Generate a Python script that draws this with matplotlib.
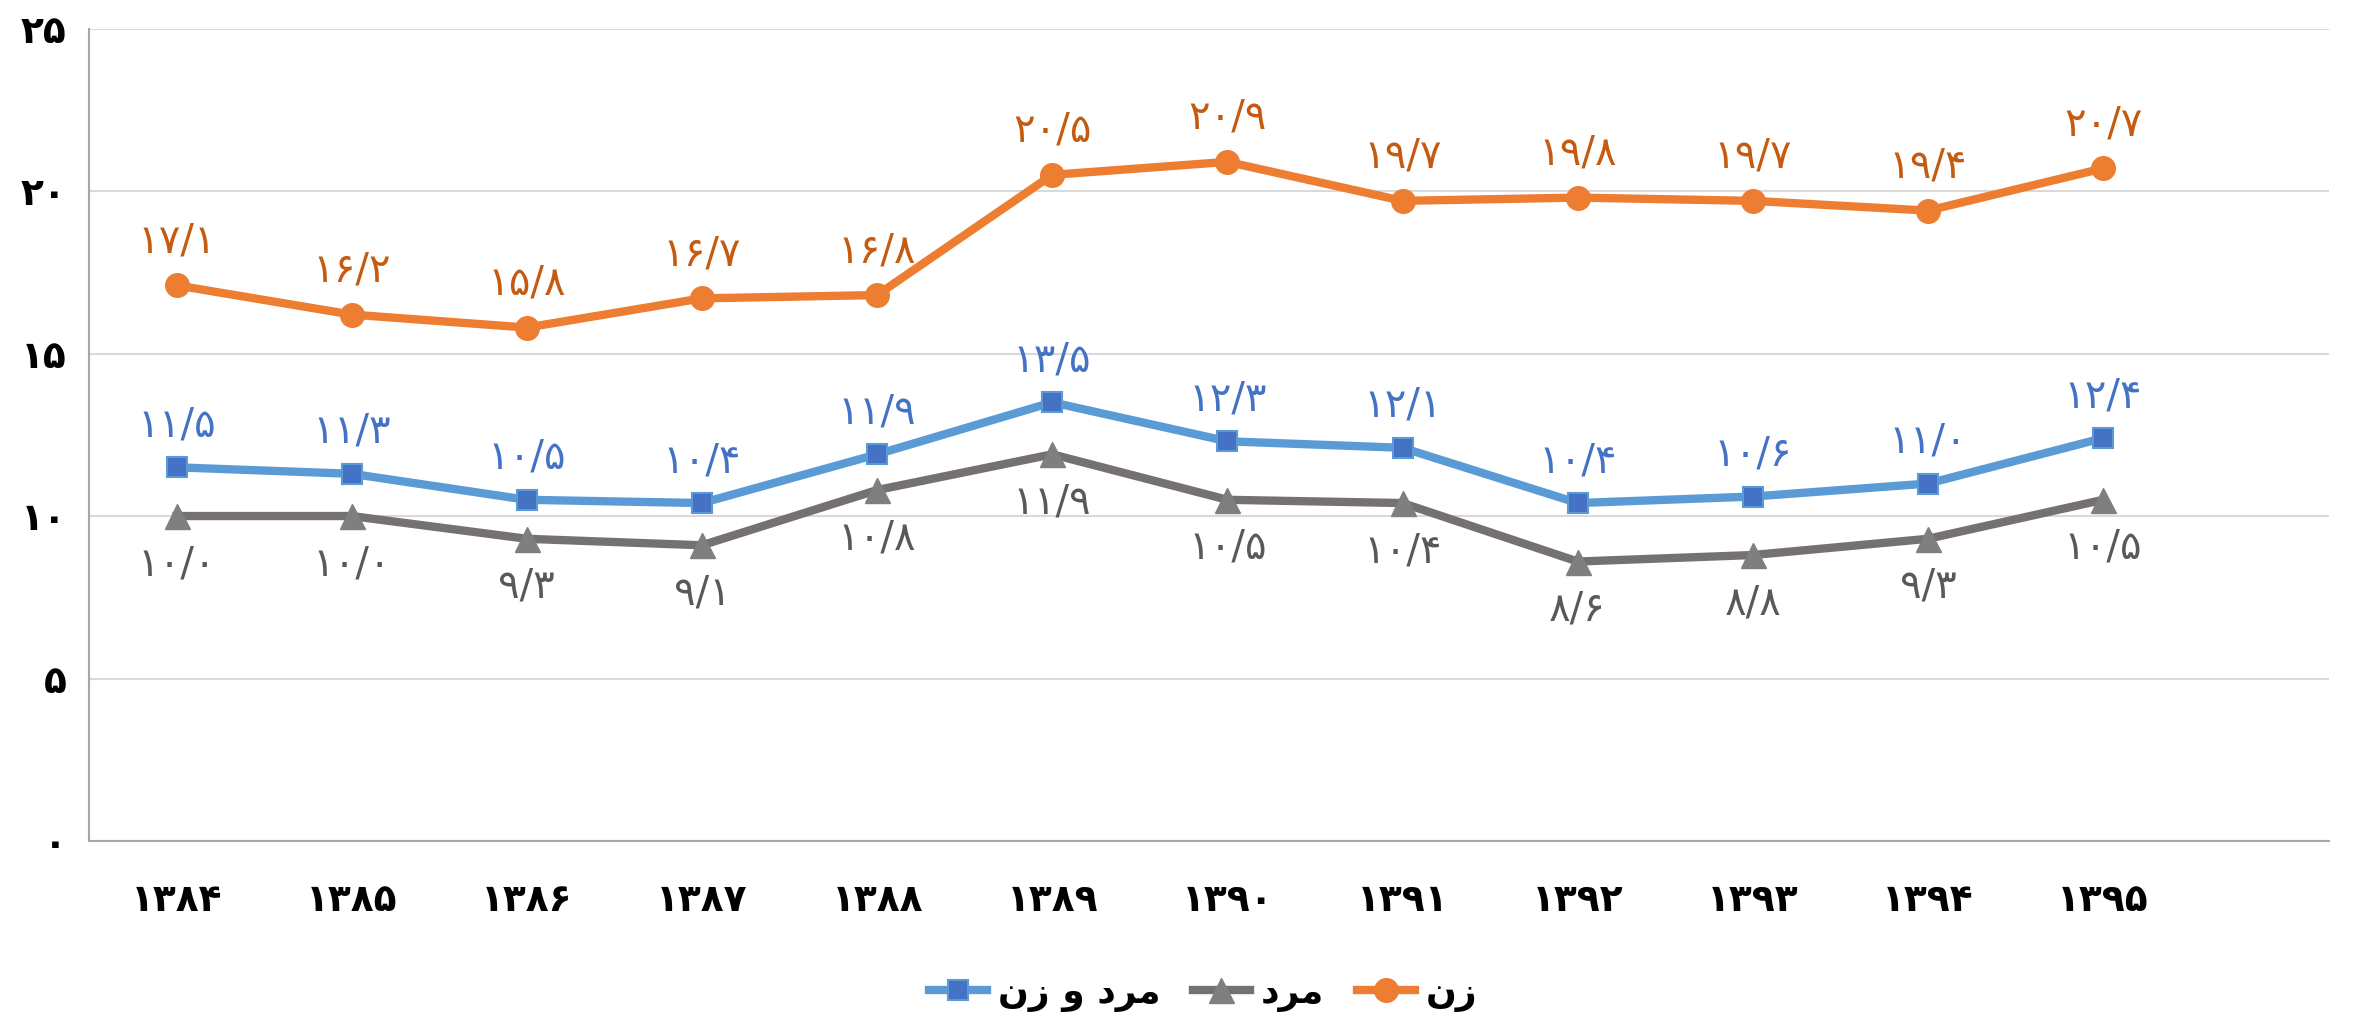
import matplotlib
matplotlib.use("Agg")
import matplotlib.pyplot as plt

plt.rcParams['font.family'] = ['DejaVu Sans']

years = ["۱۳۸۴", "۱۳۸۵", "۱۳۸۶", "۱۳۸۷", "۱۳۸۸", "۱۳۸۹",
         "۱۳۹۰", "۱۳۹۱", "۱۳۹۲", "۱۳۹۳", "۱۳۹۴", "۱۳۹۵"]
zan = [17.1, 16.2, 15.8, 16.7, 16.8, 20.5, 20.9, 19.7, 19.8, 19.7, 19.4, 20.7]
kol = [11.5, 11.3, 10.5, 10.4, 11.9, 13.5, 12.3, 12.1, 10.4, 10.6, 11.0, 12.4]
mard = [10.0, 10.0, 9.3, 9.1, 10.8, 11.9, 10.5, 10.4, 8.6, 8.8, 9.3, 10.5]
yticks = [0, 5, 10, 15, 20, 25]

# Legend names (visual order, pre-shaped Arabic presentation forms)
name_kol = "\uFEE5\uFEAF \uFEED \uFEA9\uFEAE\uFEE3"   # مرد و زن
name_mard = "\uFEA9\uFEAE\uFEE3"                      # مرد
name_zan = "\uFEE5\uFEAF"                             # زن

FA = str.maketrans("0123456789.", "۰۱۲۳۴۵۶۷۸۹/")


def fa(v, dec=True):
    s = f"{v:.1f}" if dec else f"{v:d}"
    return s.translate(FA)


fig = plt.figure(figsize=(23.59, 10.19), dpi=100)
ax = fig.add_axes([0.0377, 0.1747, 0.9496, 0.7972])

x = list(range(len(years)))

l_kol, = ax.plot(x, kol, color="#5B9BD5", lw=6, marker="s", ms=15,
                 mfc="#4472C4", mec="#5B9BD5", mew=1.5, zorder=3)
l_mard, = ax.plot(x, mard, color="#767171", lw=6, marker="^", ms=18,
                  mfc="#7F7F7F", mec="#7F7F7F", zorder=3)
l_zan, = ax.plot(x, zan, color="#ED7D31", lw=6, marker="o", ms=17,
                 mfc="#ED7D31", mec="#ED7D31", zorder=3)

lab_fs = 29
for xi, v in zip(x, zan):
    ax.annotate(fa(v), (xi, v), xytext=(0, 44), textcoords="offset pixels",
                ha="center", va="center", fontsize=lab_fs, color="#C55A11")
for xi, v in zip(x, kol):
    ax.annotate(fa(v), (xi, v), xytext=(0, 42), textcoords="offset pixels",
                ha="center", va="center", fontsize=lab_fs, color="#4472C4")
for xi, v in zip(x, mard):
    ax.annotate(fa(v), (xi, v), xytext=(0, -48), textcoords="offset pixels",
                ha="center", va="center", fontsize=lab_fs, color="#595959")

ax.set_xlim(-0.5, 12.29)
ax.set_ylim(0, 25)
ax.set_yticks(yticks)
ax.set_yticklabels([fa(t, dec=False) for t in yticks], fontsize=27,
                   fontweight="bold", color="black")
ax.set_xticks(x)
ax.set_xticklabels(years, fontsize=27, fontweight="bold", color="black")
ax.tick_params(axis="both", length=0)
ax.tick_params(axis="y", pad=16)
ax.tick_params(axis="x", pad=30)

ax.grid(axis="y", color="#D9D9D9", lw=1.5, zorder=0)
ax.set_axisbelow(True)
for s in ["top", "right"]:
    ax.spines[s].set_visible(False)
for s in ["left", "bottom"]:
    ax.spines[s].set_color("#A6A6A6")
    ax.spines[s].set_linewidth(1.5)

leg = fig.legend([l_kol, l_mard, l_zan], [name_kol, name_mard, name_zan],
                 loc="center", bbox_to_anchor=(0.51, 0.025), ncol=3,
                 frameon=False, prop={"size": 26, "weight": "bold"},
                 handlelength=1.6, columnspacing=0.9, handletextpad=0.3)

fig.savefig("out.png", dpi=100)
